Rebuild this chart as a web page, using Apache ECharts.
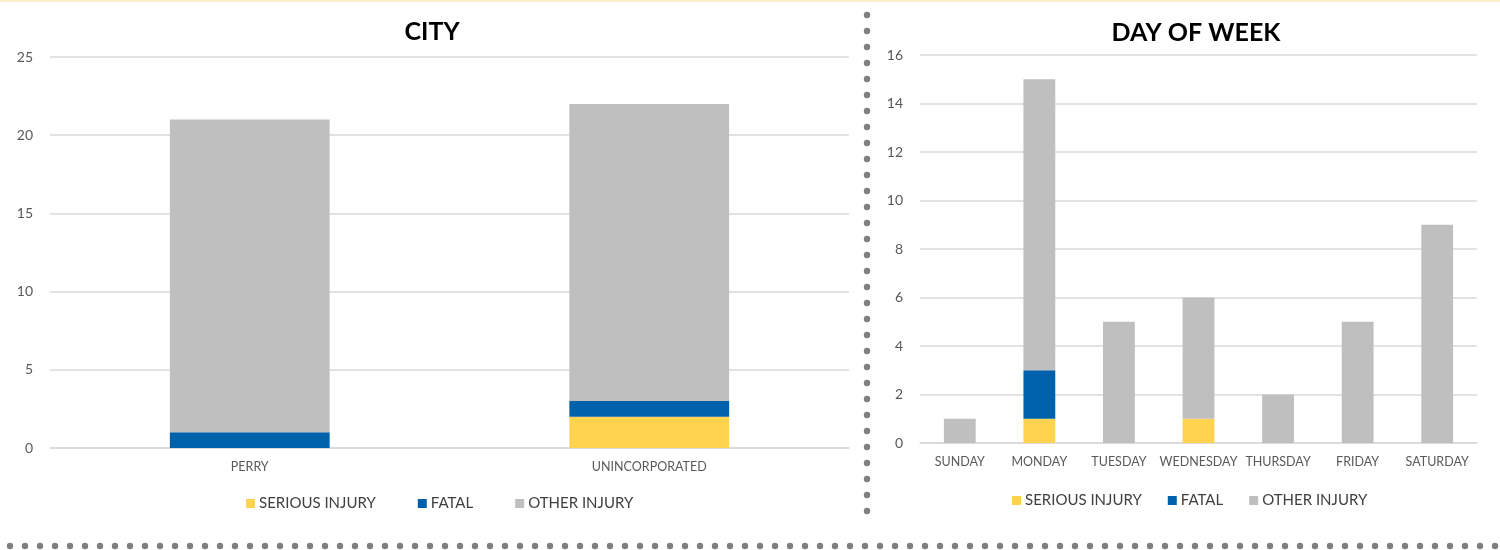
<!DOCTYPE html>
<html>
<head>
<meta charset="utf-8">
<script src="https://cdn.jsdelivr.net/npm/echarts@6/dist/echarts.min.js"></script>
<style>
html,body{margin:0;padding:0;background:#fff;}
#c{width:1500px;height:550px;}
</style>
</head>
<body>
<div id="c"></div>
<script>
// ---- data ----
const seriesNames = ['SERIOUS INJURY', 'FATAL', 'OTHER INJURY'];
const cityCategories = ['PERRY', 'UNINCORPORATED'];
const citySerious = [0, 2];
const cityFatal = [1, 1];
const cityOther = [20, 19];
const dayCategories = ['SUNDAY', 'MONDAY', 'TUESDAY', 'WEDNESDAY', 'THURSDAY', 'FRIDAY', 'SATURDAY'];
const daySerious = [0, 1, 0, 1, 0, 0, 0];
const dayFatal = [0, 2, 0, 0, 0, 0, 0];
const dayOther = [1, 12, 5, 5, 2, 5, 9];
const cityTicks = {min: 0, max: 25, interval: 5};
const dayTicks = {min: 0, max: 16, interval: 2};

const colors = ['#FFD34F', '#0061AB', '#BFBFBF'];
const FONT = 'Lato';

const chart = echarts.init(document.getElementById('c'));

const graphics = [];
graphics.push({type: 'rect', shape: {x: 0, y: 0, width: 1500, height: 2}, style: {fill: '#FCEFC8'}, silent: true});
for (let y = 15; y <= 513; y += 16) {
  graphics.push({type: 'circle', shape: {cx: 867, cy: y, r: 3.2}, style: {fill: '#7F7F7F'}, silent: true});
}
for (let x = 10; x <= 1500; x += 15) {
  graphics.push({type: 'circle', shape: {cx: x, cy: 546, r: 3.2}, style: {fill: '#7F7F7F'}, silent: true});
}

function catAxis(idx, data) {
  return {
    type: 'category', gridIndex: idx, data: data,
    axisLine: {lineStyle: {color: '#D9D9D9', width: 1.5}},
    axisTick: {show: false},
    axisLabel: {color: '#595959', fontFamily: FONT, fontSize: 12.5, margin: 12, interval: 0}
  };
}
function valAxis(idx, t) {
  return {
    type: 'value', gridIndex: idx, min: t.min, max: t.max, interval: t.interval,
    axisLine: {show: false}, axisTick: {show: false},
    splitLine: {lineStyle: {color: '#D9D9D9', width: 1.5}},
    axisLabel: {color: '#595959', fontFamily: FONT, fontSize: 14, margin: 17}
  };
}
function bar(name, data, idx, color) {
  return {
    name: name, type: 'bar', stack: 's' + idx, data: data,
    xAxisIndex: idx, yAxisIndex: idx, barWidth: '40%',
    itemStyle: {color: color}, emphasis: {disabled: true}
  };
}

chart.setOption({
  animation: false,
  color: colors,
  title: [
    {text: 'CITY', left: 432, top: 19, textAlign: 'center', padding: 0,
     textStyle: {fontFamily: FONT, fontSize: 25, fontWeight: 'bold', color: '#000'}},
    {text: 'DAY OF WEEK', left: 1196, top: 20, textAlign: 'center', padding: 0,
     textStyle: {fontFamily: FONT, fontSize: 25, fontWeight: 'bold', color: '#000'}}
  ],
  legend: [
    {data: seriesNames, left: 241, top: 491, icon: 'rect', itemWidth: 9, itemHeight: 9, itemGap: 42,
     selectedMode: false, textStyle: {fontFamily: FONT, fontSize: 15, color: '#404040', padding: [0, 0, 0, -1]}},
    {data: seriesNames, left: 1007, top: 488, icon: 'rect', itemWidth: 9, itemHeight: 9, itemGap: 26,
     selectedMode: false, textStyle: {fontFamily: FONT, fontSize: 15, color: '#404040', padding: [0, 0, 0, -1]}}
  ],
  grid: [
    {left: 50, right: 651, top: 57, bottom: 102},
    {left: 920, right: 23, top: 55, bottom: 107}
  ],
  xAxis: [catAxis(0, cityCategories), catAxis(1, dayCategories)],
  yAxis: [valAxis(0, cityTicks), valAxis(1, dayTicks)],
  series: [
    bar(seriesNames[0], citySerious, 0, colors[0]),
    bar(seriesNames[1], cityFatal, 0, colors[1]),
    bar(seriesNames[2], cityOther, 0, colors[2]),
    bar(seriesNames[0], daySerious, 1, colors[0]),
    bar(seriesNames[1], dayFatal, 1, colors[1]),
    bar(seriesNames[2], dayOther, 1, colors[2])
  ],
  graphic: graphics
});
</script>
</body>
</html>
